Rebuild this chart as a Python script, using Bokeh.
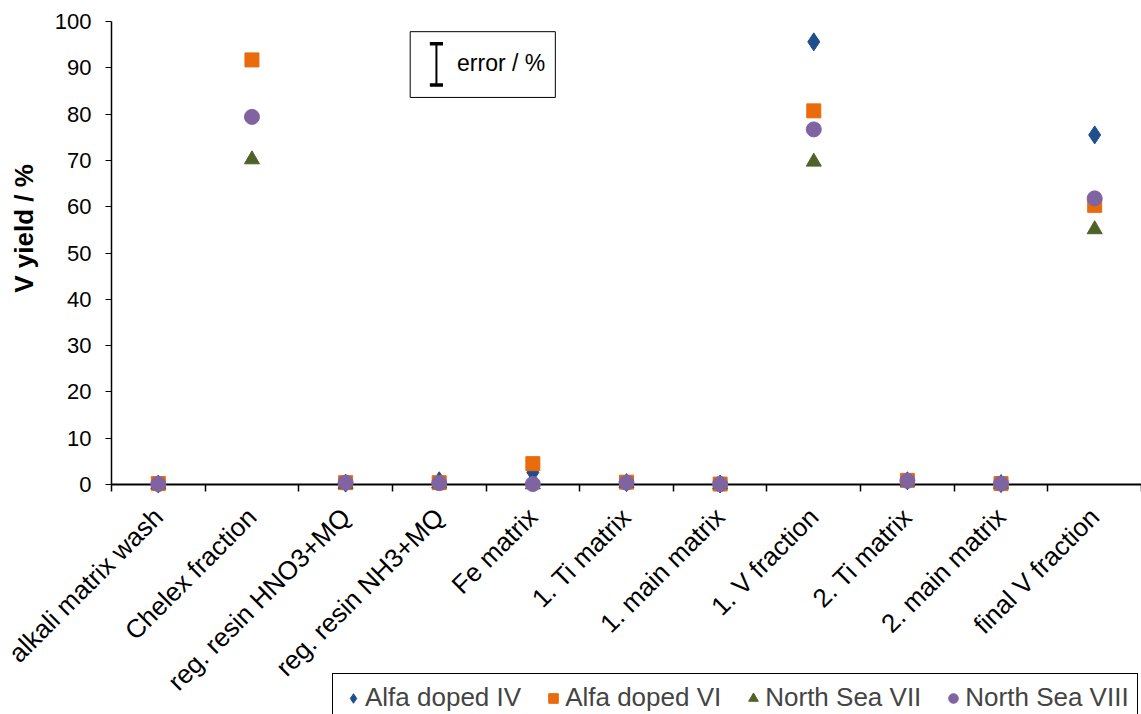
import math
from bokeh.plotting import figure
from bokeh.models import Range1d, FixedTicker, Legend, LegendItem, Label, ColumnDataSource
from bokeh.embed import file_html
from bokeh.resources import INLINE

categories = ["alkali matrix wash", "Chelex fraction", "reg. resin HNO3+MQ", "reg. resin NH3+MQ",
              "Fe matrix", "1. Ti matrix", "1. main matrix", "1. V fraction", "2. Ti matrix",
              "2. main matrix", "final V fraction"]
alfa_iv = [0.1, float("nan"), 0.3, 0.8, 2.6, 0.4, 0.1, 95.6, 0.8, 0.2, 75.5]
alfa_vi = [0.2, 91.7, 0.4, 0.4, 4.5, 0.5, 0.1, 80.7, 0.9, 0.2, 60.3]
north_vii = [0.0, 70.2, 0.1, 0.2, 0.0, 0.3, 0.0, 69.7, 0.6, 0.1, 55.1]
north_viii = [0.1, 79.4, 0.4, 0.3, 0.1, 0.4, 0.1, 76.7, 0.8, 0.2, 61.8]
y_ticks = [0, 10, 20, 30, 40, 50, 60, 70, 80, 90, 100]

FONT = "Liberation Sans"
W, H = 1141, 714
PLOT_L, PLOT_T, PLOT_B = 111, 21, 484          # pixel edges of the plotting area
n = len(categories)
px_x = (W - PLOT_L) / n
px_y = (PLOT_B - PLOT_T) / 100.0
xpos = [i + 0.5 for i in range(n)]

p = figure(frame_width=W, frame_height=H, output_backend="svg", toolbar_location=None,
           x_range=Range1d(-PLOT_L / px_x, n),
           y_range=Range1d(-(H - PLOT_B) / px_y, PLOT_B / px_y),
           min_border=0, min_border_left=0, min_border_right=0, min_border_top=0, min_border_bottom=0)
p.outline_line_color = None
p.xgrid.visible = False
p.ygrid.visible = False

# y axis
yax = p.yaxis[0]
yax.fixed_location = 0
yax.bounds = (0, 100)
yax.ticker = FixedTicker(ticks=y_ticks)
yax.major_label_text_font = FONT
yax.major_label_text_font_size = "22px"
yax.major_label_text_color = "black"
yax.major_label_standoff = 14
yax.axis_line_color = "black"
yax.axis_line_width = 1.5
yax.major_tick_line_color = "black"
yax.major_tick_in = 0
yax.major_tick_out = 6
yax.minor_tick_line_color = None
p.add_layout(Label(x=-0.93, y=55.3, text="V yield / %", angle=math.pi / 2, text_font=FONT,
                   text_font_size="26px", text_font_style="bold", text_align="center",
                   text_baseline="middle", text_color="black"))

# x axis
xax = p.xaxis[0]
xax.fixed_location = 0
xax.bounds = (0, n)
xax.ticker = FixedTicker(ticks=xpos, minor_ticks=list(range(n + 1)))
xax.major_label_overrides = {x: c for x, c in zip(xpos, categories)}
xax.major_label_orientation = math.pi / 4
xax.major_label_text_font = FONT
xax.major_label_text_font_size = "26px"
xax.major_label_text_color = "black"
xax.major_label_standoff = 21
xax.major_tick_in = 0
xax.major_tick_out = 0
xax.minor_tick_in = 0
xax.minor_tick_out = 7
xax.minor_tick_line_color = "black"
xax.minor_tick_line_width = 1.5
xax.axis_line_color = "black"
xax.axis_line_width = 2

src = ColumnDataSource(dict(x=xpos, a=alfa_iv, b=alfa_vi, c=north_vii, d=north_viii))
r1 = p.scatter("x", "a", source=src, marker="diamond", size=18, color="#1F4E8C", level="overlay")
r2 = p.scatter("x", "b", source=src, marker="square", size=14, color="#E96B0C", level="overlay")
r3 = p.scatter("x", "c", source=src, marker="triangle", size=15, color="#4F6228", level="overlay")
r4 = p.scatter("x", "d", source=src, marker="circle", size=15, color="#8064A2", level="overlay")

# error box
p.quad(left=[3.19], right=[4.74], bottom=[83.6], top=[97.8],
       fill_color="white", line_color="black", line_width=1)
p.segment(x0=[3.47], y0=[86.3], x1=[3.47], y1=[95.2], line_color="black", line_width=2)
p.segment(x0=[3.40, 3.40], y0=[86.3, 95.2], x1=[3.54, 3.54], y1=[86.3, 95.2],
          line_color="black", line_width=3.5)
p.add_layout(Label(x=3.69, y=91.1, text="error / %", text_font=FONT, text_font_size="23px",
                   text_baseline="middle", text_color="black"))

legend = Legend(items=[LegendItem(label="Alfa doped IV", renderers=[r1]),
                       LegendItem(label="Alfa doped VI", renderers=[r2]),
                       LegendItem(label="North Sea VII", renderers=[r3]),
                       LegendItem(label="North Sea VIII", renderers=[r4])],
                orientation="horizontal", location=(332, -8),
                label_text_font=FONT, label_text_font_size="26px",
                glyph_width=24, glyph_height=24, label_standoff=0, spacing=20,
                border_line_color="black", border_line_width=1, border_line_alpha=1,
                padding=8, margin=0, background_fill_alpha=1)
p.add_layout(legend, "center")

open("out.html", "w").write(file_html(p, INLINE))
